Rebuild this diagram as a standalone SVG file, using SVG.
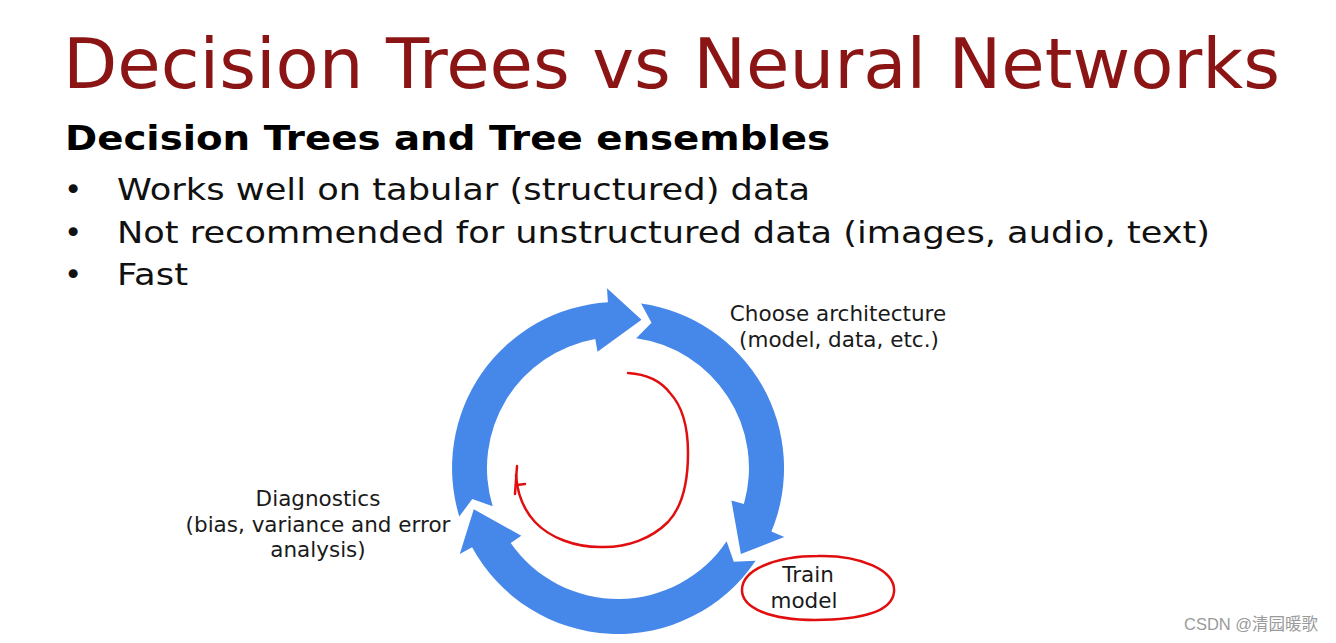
<svg xmlns="http://www.w3.org/2000/svg" width="1336" height="643" viewBox="0 0 1336 643">
<style>
.ttl{font-family:"DejaVu Sans","Liberation Sans",sans-serif;font-size:70px;fill:#8B1515}
.sub{font-family:"DejaVu Sans","Liberation Sans",sans-serif;font-size:33px;font-weight:bold;fill:#000}
.bul{font-family:"DejaVu Sans","Liberation Sans",sans-serif;font-size:31px;fill:#111}
.lbl{font-family:"DejaVu Sans","Liberation Sans",sans-serif;font-size:21.5px;fill:#1a1a1a;text-anchor:middle}
.arr{fill:#4687EA}
.ink{fill:none;stroke:#E00E0E;stroke-width:2.5;stroke-linecap:round;stroke-linejoin:round}
.wm{font-family:"Liberation Sans","Noto Sans CJK SC",sans-serif;font-size:16.5px;fill:#9a9a9a}
</style>
<rect width="1336" height="643" fill="#ffffff"/>
<text class="ttl" x="63" y="88" textLength="1217" lengthAdjust="spacingAndGlyphs">Decision Trees vs Neural Networks</text>
<text class="sub" x="65" y="150" textLength="765" lengthAdjust="spacingAndGlyphs">Decision Trees and Tree ensembles</text>
<g class="bul">
<text x="64" y="200">•</text>
<text x="117" y="200" textLength="693" lengthAdjust="spacingAndGlyphs">Works well on tabular (structured) data</text>
<text x="64" y="243">•</text>
<text x="117" y="243" textLength="1093" lengthAdjust="spacingAndGlyphs">Not recommended for unstructured data (images, audio, text)</text>
<text x="64" y="285">•</text>
<text x="117" y="285" textLength="71" lengthAdjust="spacingAndGlyphs">Fast</text>
</g>
<g id="connectors">
<path id="arrow-diag-to-arch" class="arr" d="M459.3,516.5 A166,166 0 0 1 607.9,302.3 L607,288.3 L641.5,319.8 L597.5,351.8 L595.3,339 A131,131 0 0 0 492.7,506.3 L472.3,499 Z"/>
<path id="arrow-arch-to-train" class="arr" d="M641.1,303.6 A166,166 0 0 1 771.4,531.5 L784.3,536.9 L740.9,554 L731.4,500.5 L743.9,504.1 A131,131 0 0 0 636.2,338.3 L651.5,322.8 Z"/>
<path id="arrow-train-to-diag" class="arr" d="M755.6,560.8 A166,166 0 0 1 472.1,547.2 L459.8,553.9 L473.8,509.3 L521.3,535.7 L510.7,543.1 A131,131 0 0 0 726.6,541.3 L733.8,561.8 Z"/>
</g>
<g id="node-arch">
<text class="lbl" x="838" y="321">Choose architecture</text>
<text class="lbl" x="839" y="347">(model, data, etc.)</text>
</g>
<g id="node-diag">
<text class="lbl" x="318" y="506">Diagnostics</text>
<text class="lbl" x="318" y="532">(bias, variance and error</text>
<text class="lbl" x="318" y="557">analysis)</text>
</g>
<g id="node-train">
<text class="lbl" x="808" y="582">Train</text>
<text class="lbl" x="804" y="608">model</text>
<path class="ink" d="M818,556 C860,555 896,570 894,592 C892,612 860,620 815,620 C770,620 742,608 742,590 C742,570 775,556 818,556"/>
</g>
<g id="annotation">
<path class="ink" d="M628,373 C645,374 660,380 670,393 C684,408 688,430 688,453 C688,480 684,505 668,522 C652,538 628,548 600,547 C575,547 550,538 535,522 C522,508 517,490 516,475"/>
<path class="ink" d="M517,466 L515,494 M517,485 L525,484"/>
</g>
<text class="wm" x="1184" y="630">CSDN @清园暖歌</text>
</svg>
